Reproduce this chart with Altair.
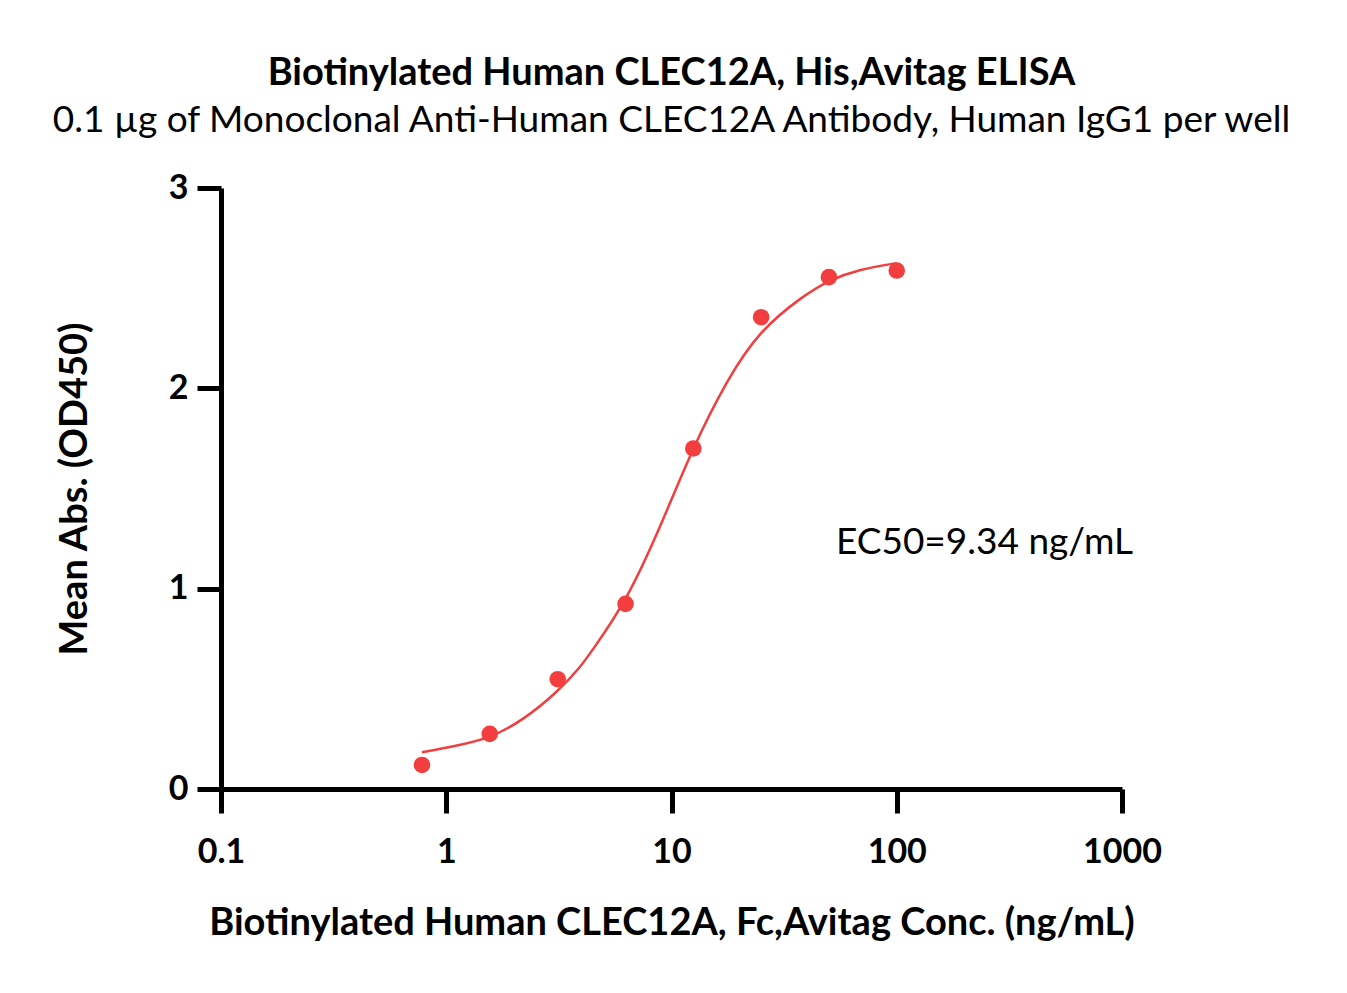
import altair as alt
import pandas as pd

# measured points
conc = [0.78, 1.56, 3.125, 6.25, 12.5, 25, 50, 100]
absorb = [0.12, 0.275, 0.548, 0.924, 1.70, 2.355, 2.555, 2.588]

# fitted curve
curve_conc = [0.78, 1.1, 1.56, 2.2, 3.125, 3.91, 4.46, 6.25, 8.87, 12.5, 17.6, 24.6, 38.9, 50, 68.4, 100]
curve_abs = [0.183, 0.215, 0.253, 0.344, 0.486, 0.603, 0.694, 0.93, 1.30, 1.71, 2.04, 2.29, 2.466, 2.54, 2.595, 2.625]

ann_text = ["EC50=9.34 ng/mL"]
ann_x = [53.7]
ann_y = [1.23]

x_ticks = [0.1, 1, 10, 100, 1000]
y_ticks = [0, 1, 2, 3]

RED = "#F23E3E"
FONT = "Lato"

pts = pd.DataFrame({"conc": conc, "abs": absorb})
crv = pd.DataFrame({"conc": curve_conc, "abs": curve_abs})
ann = pd.DataFrame({"t": ann_text, "x": ann_x, "y": ann_y})

xscale = alt.Scale(type="log", domain=[0.1, 1000], nice=False)
yscale = alt.Scale(domain=[0, 3], nice=False)

xaxis = alt.Axis(values=x_ticks, labelExpr="datum.value < 1 ? '0.1' : format(datum.value, 'd')",
                 labelFlush=False, labelOverlap=False, labelBound=False,
                 title="Biotinylated Human CLEC12A, Fc,Avitag Conc. (ng/mL)", grid=False)
yaxis = alt.Axis(values=y_ticks, format="d", labelFlush=False, labelOverlap=False,
                 title="Mean Abs. (OD450)", grid=False)

line = alt.Chart(crv).mark_line(color=RED, strokeWidth=2.5, interpolate="basis").encode(
    x=alt.X("conc:Q", scale=xscale, axis=xaxis),
    y=alt.Y("abs:Q", scale=yscale, axis=yaxis),
)
dots = alt.Chart(pts).mark_circle(color=RED, opacity=1, size=275).encode(
    x=alt.X("conc:Q", scale=xscale),
    y=alt.Y("abs:Q", scale=yscale),
)
label = alt.Chart(ann).mark_text(align="left", baseline="middle", font=FONT, fontSize=37, color="black").encode(
    x=alt.X("x:Q", scale=xscale),
    y=alt.Y("y:Q", scale=yscale),
    text="t:N",
)

chart = alt.layer(line, dots, label).properties(
    width=901,
    height=601,
    title=alt.TitleParams(
        text="Biotinylated Human CLEC12A, His,Avitag ELISA",
        subtitle="0.1 µg of Monoclonal Anti-Human CLEC12A Antibody, Human IgG1 per well",
        anchor="middle",
        font=FONT,
        fontSize=38,
        fontWeight="bold",
        color="black",
        subtitleFont=FONT,
        subtitleFontSize=37,
        subtitleFontWeight="normal",
        subtitleColor="black",
        subtitlePadding=10,
        offset=32,
    ),
    autosize=alt.AutoSizeParams(type="none"),
    padding={"left": 213, "top": 180, "right": 210, "bottom": 190},
).configure_view(stroke=None).configure_axis(
    domainColor="black",
    domainWidth=5,
    tickColor="black",
    tickWidth=5,
    tickSize=24,
    labelFont=FONT,
    labelFontSize=34,
    labelFontWeight="bold",
    labelColor="black",
    titleFont=FONT,
    titleFontSize=38,
    titleFontWeight="bold",
    titleColor="black",
).configure_axisX(labelPadding=22, titlePadding=35).configure_axisY(labelPadding=9, titlePadding=74)

chart.save("out.html", embed_options={"renderer": "svg", "actions": False})
